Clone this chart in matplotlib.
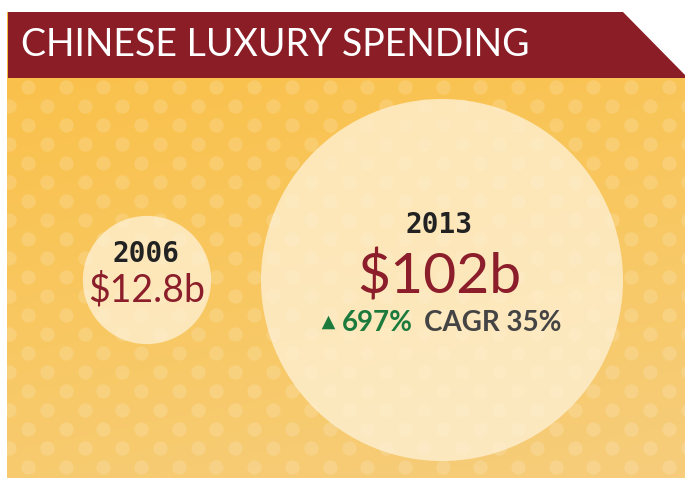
import matplotlib
matplotlib.use('Agg')
import matplotlib.pyplot as plt
from matplotlib.patches import Polygon, Circle, Rectangle
from matplotlib.colors import LinearSegmentedColormap
import numpy as np

# chart data
title = 'CHINESE LUXURY SPENDING'
years = ['2006', '2013']
spend = [12.8, 102]            # billions USD
spend_labels = ['$12.8b', '$102b']
growth = '697%'
cagr = 'CAGR 35%'

W, H = 685, 478
fig = plt.figure(figsize=(W / 100, H / 100), dpi=100)
ax = fig.add_axes([0, 0, 1, 1])
ax.set_xlim(0, W)
ax.set_ylim(H, 0)
ax.axis('off')

# background gradient (below the header)
cmap = LinearSegmentedColormap.from_list('bg', ['#FAC14B', '#F8C862', '#F6CD7C'])
yy, xx = np.mgrid[0:1:200j, 0:1:200j]
grad = 0.75 * yy + 0.25 * xx
ax.imshow(grad, cmap=cmap, extent=(7, W, H, 78), aspect='auto', zorder=0)
ax.add_patch(Rectangle((7, 12), 1.2, 66, facecolor='#F5B93A', edgecolor='none', zorder=0))

# polka dots
dx, dy = 37.7, 19
rows = np.arange(87, H + 10, dy)
for i, y in enumerate(rows):
    x0 = 47 if i % 2 == 1 else 28
    xs = np.arange(x0 - dx, W + dx, dx)
    ax.scatter(xs, np.full_like(xs, y), s=(7.2 * 72 / 100 * 2) ** 2,
               color='white', alpha=0.15, linewidths=0, zorder=1)

# header band
ax.add_patch(Polygon([(8, 12), (623, 12), (685, 75), (685, 78), (8, 78)],
                     closed=True, facecolor='#8A1D26', edgecolor='none', zorder=3))
ax.text(21, 45, title, color='white', fontsize=27, family='Lato',
        ha='left', va='center', zorder=4)

# bubbles, area proportional to value
r_big = 181
radii = [r_big * np.sqrt(v / max(spend)) for v in spend]
centers = [(147, 280), (442, 280)]
for (cx, cy), r in zip(centers, radii):
    ax.add_patch(Circle((cx, cy), r, facecolor='#FFF3DA', alpha=0.74,
                        edgecolor='none', zorder=2))

# small bubble text
ax.text(146, 254, years[0], family='DejaVu Sans Mono', fontweight='bold',
        fontsize=20, color='#222222', ha='center', va='center', zorder=5)
ax.text(147, 290, spend_labels[0], family='Lato', fontweight='normal',
        fontsize=27, color='#8B1E2A', ha='center', va='center', zorder=5)

# big bubble text
ax.text(439, 225, years[1], family='DejaVu Sans Mono', fontweight='bold',
        fontsize=20, color='#222222', ha='center', va='center', zorder=5)
ax.text(439, 277, spend_labels[1], family='Lato', fontweight='normal',
        fontsize=41, color='#8B1E2A', ha='center', va='center', zorder=5)

# growth line: triangle + percentage + CAGR
ax.scatter([328], [322], marker='^', s=95, color='#1B7A3C', linewidths=0, zorder=5)
fig.canvas.draw()
renderer = fig.canvas.get_renderer()
t1 = ax.text(342, 323, growth, family='Lato', fontweight='bold', fontsize=20,
             color='#1B7A3C', ha='left', va='center', zorder=5)
bb = t1.get_window_extent(renderer)
x_end = ax.transData.inverted().transform((bb.x1, bb.y0))[0]
ax.text(x_end + 11, 323, cagr, family='Lato', fontweight='bold', fontsize=20,
        color='#444444', ha='left', va='center', zorder=5)

fig.savefig('out.png', dpi=100)
plt.close(fig)
